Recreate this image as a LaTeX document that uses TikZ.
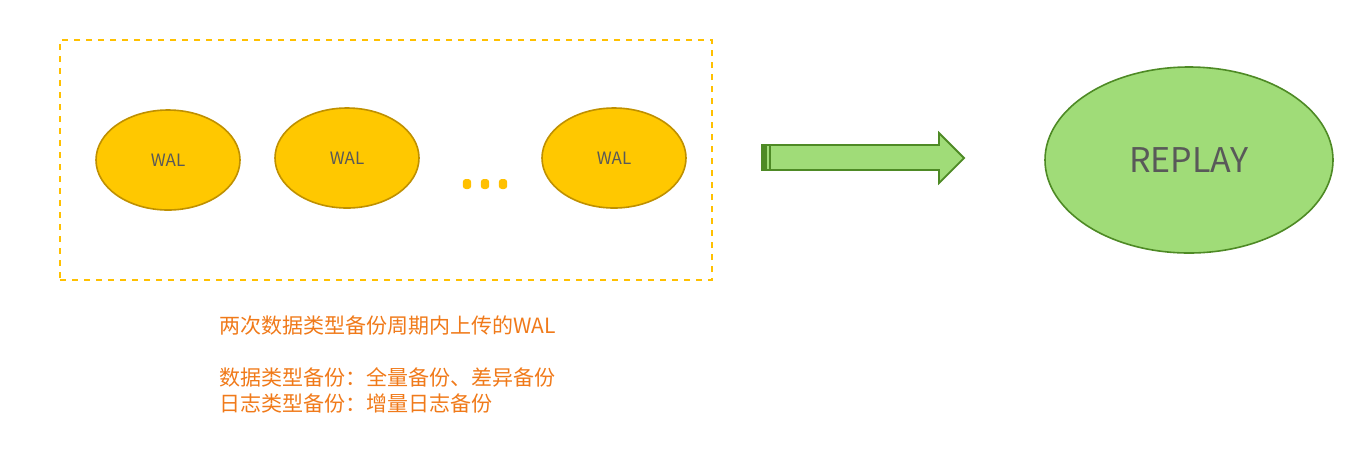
\documentclass[tikz,border=0pt]{standalone}
\usepackage{fontspec}
\setmainfont{Noto Sans CJK SC}
\newfontfamily\cjk{Noto Sans CJK SC}
\definecolor{walfill}{HTML}{FFC800}
\definecolor{waldraw}{HTML}{BF9000}
\definecolor{dashc}{HTML}{FFC000}
\definecolor{txtgray}{HTML}{595959}
\definecolor{repfill}{HTML}{A0DC78}
\definecolor{repdraw}{HTML}{4E8A25}
\definecolor{orangetxt}{HTML}{F07A1A}
\begin{document}
\begin{tikzpicture}[x=0.5pt,y=-0.5pt,
  walnode/.style={ellipse,draw=waldraw,fill=walfill,line width=0.8pt,minimum width=72pt,minimum height=50pt,inner sep=0pt,text=txtgray,font=\fontsize{8.5}{10}\selectfont},
  dotnode/.style={rectangle,rounded corners=1.5pt,fill=dashc,minimum width=4.2pt,minimum height=5pt,inner sep=0pt},
  note/.style={anchor=west,text=orangetxt,font=\fontsize{10.5}{12}\selectfont,inner sep=0pt}]
\usetikzlibrary{shapes.geometric}
\useasboundingbox (0,0) rectangle (1358,457);
\node[draw=dashc,dashed,line width=0.8pt,minimum width=326pt,minimum height=120pt,inner sep=0pt] (box) at (386,160) {};
\node[walnode] (w1) at (168,160) {WAL};
\node[walnode] (w2) at (347,158) {WAL};
\node[walnode] (w3) at (614,158) {WAL};
\node[dotnode] (d1) at (467,184) {};
\node[dotnode] (d2) at (485,184) {};
\node[dotnode] (d3) at (503,184) {};
\node[ellipse,draw=repdraw,fill=repfill,line width=0.8pt,minimum width=144pt,minimum height=93pt,inner sep=0pt,text=txtgray,font=\fontsize{17}{20}\selectfont] (rep) at (1189,160) {REPLAY};
\coordinate (a0) at (762,145);
\draw[draw=repdraw,fill=repfill,line width=0.9pt,line join=miter]
  (762,145) -- (939,145) -- (939,133) -- (964,158) -- (939,183) -- (939,170) -- (762,170) -- cycle;
\fill[repdraw] (762,145) rectangle (767,170);
\draw[repdraw,line width=0.9pt] (770,145) -- (770,170);
\node[note] (t1) at (219,326) {两次数据类型备份周期内上传的WAL};
\node[note] (t2) at (219,377) {数据类型备份：全量备份、差异备份};
\node[note] (t3) at (219,403) {日志类型备份：增量日志备份};
\end{tikzpicture}
\end{document}
